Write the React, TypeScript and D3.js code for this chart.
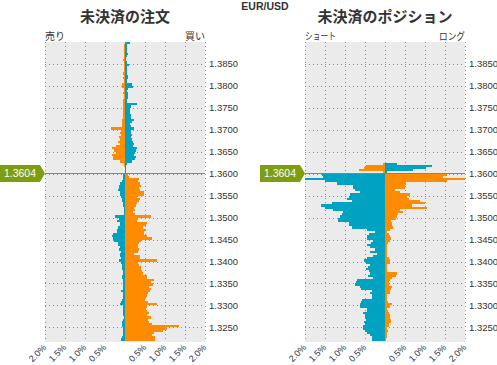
import React from "react";
import * as d3 from "d3";

// ---- data ----
const pairName = "EUR/USD";
const currentPriceLabel = "1.3604";
const currentPriceLevel = 1.36;
const bucketTop = 1.3895;
const bucketStep = 0.0005;
const priceTicks = [1.325, 1.33, 1.335, 1.34, 1.345, 1.35, 1.355, 1.36, 1.365, 1.37, 1.375, 1.38, 1.385];
const pctTicks = [-2, -1.5, -1, -0.5, 0.5, 1, 1.5, 2];
const pctGrid = [-2, -1.5, -1, -0.5, 0, 0.5, 1, 1.5, 2];

const panelTitles = ["未決済の注文", "未決済のポジション"];
const sideLabelsLeft = ["売り", "ショート"];
const sideLabelsRight = ["買い", "ロング"];

// values in %, bucket 0 = 1.3895 ... bucket 135 = 1.3220
const ordersOrange = [
  0, 0.025, 0.02, 0.035, 0.025, 0.02, 0.02, 0.025, 0.04, 0.025,
  0.035, 0.02, 0.02, 0.025, 0.04, 0.035, 0.04, 0.025, 0.02, 0.065,
  0.075, 0.035, 0.035, 0.04, 0.035, 0.035, 0.05, 0.04, 0.05, 0.06,
  0.05, 0.04, 0.04, 0.05, 0.05, 0.065, 0.08, 0.065, 0.065, 0.36,
  0.1, 0.13, 0.1, 0.15, 0.12, 0.18, 0.125, 0.23, 0.32, 0.27,
  0.23, 0.32, 0.31, 0.29, 0.13, 0.035, 0.015, 0.01, 0, 0,
  0.08, 0.11, 0.35, 0.32, 0.375, 0.39, 0.35, 0.38, 0.475, 0.475,
  0.29, 0.37, 0.34, 0.3, 0.27, 0.225, 0.24, 0.21, 0.24, 0.64,
  0.32, 0.31, 0.54, 0.52, 0.46, 0.525, 0.48, 0.475, 0.54, 0.675,
  0.39, 0.35, 0.33, 0.32, 0.34, 0.325, 0.22, 0.375, 0.375, 0.79,
  0.33, 0.36, 0.39, 0.4, 0.42, 0.44, 0.54, 0.54, 0.72, 0.64,
  0.71, 0.61, 0.66, 0.625, 0.58, 0.56, 0.525, 0.49, 0.575, 0.79,
  0.54, 0.52, 0.54, 0.59, 0.54, 0.64, 0.58, 0.61, 0.67, 1.35,
  1.04, 0.96, 0.72, 0.68, 0.75, 0.76,
];
const ordersTeal = [
  0.125, 0.05, 0.05, 0.04, 0.05, 0.075, 0.06, 0.035, 0.035, 0.05,
  0.09, 0.05, 0.04, 0.05, 0.06, 0.065, 0.065, 0.06, 0.05, 0.17,
  0.19, 0.065, 0.06, 0.075, 0.08, 0.08, 0.06, 0.05, 0.29, 0.16,
  0.12, 0.125, 0.13, 0.14, 0.14, 0.22, 0.18, 0.115, 0.14, 0.225,
  0.15, 0.16, 0.18, 0.15, 0.175, 0.2, 0.225, 0.19, 0.29, 0.27,
  0.24, 0.23, 0.28, 0.25, 0.18, 0.05, 0.025, 0.02, 0.02, 0.02,
  0.04, 0.06, 0.04, 0.075, 0.125, 0.14, 0.15, 0.17, 0.125, 0.12,
  0.09, 0.075, 0.07, 0.06, 0.04, 0.035, 0.025, 0.025, 0.025, 0.25,
  0.14, 0.19, 0.125, 0.125, 0.17, 0.19, 0.21, 0.29, 0.32, 0.31,
  0.275, 0.17, 0.17, 0.125, 0.15, 0.09, 0.125, 0.125, 0.09, 0.15,
  0.1, 0.08, 0.08, 0.07, 0.04, 0.04, 0.075, 0.075, 0.06, 0.04,
  0.04, 0.04, 0.06, 0.11, 0.06, 0.06, 0.06, 0.075, 0.11, 0.125,
  0.04, 0.04, 0.04, 0.04, 0.04, 0.025, 0.04, 0.07, 0.08, 0.08,
  0.06, 0.04, 0.04, 0.06, 0.075, 0.09,
];
const positionsOrange = [
  0, 0, 0, 0, 0, 0, 0, 0, 0, 0,
  0, 0, 0, 0, 0, 0, 0, 0, 0, 0,
  0, 0, 0, 0, 0, 0, 0, 0, 0, 0,
  0, 0, 0, 0, 0, 0, 0, 0, 0, 0,
  0, 0, 0, 0, 0, 0, 0, 0, 0, 0,
  0, 0, 0, 0, 0, 0.06, 0.47, 0.52, 0.64, 0.05,
  1.54, 1.44, 2.05, 1.55, 0.52, 0.5, 0.5, 0.25, 0.375, 0.625,
  0.56, 0.6, 0.875, 1.0, 0.67, 1.06, 0.375, 0.46, 0.33, 0.29,
  0.275, 0.15, 0.17, 0.17, 0.21, 0.125, 0.04, 0.1, 0.125, 0.15,
  0.125, 0.08, 0.06, 0.04, 0.04, 0.06, 0.04, 0.04, 0.1, 0.125,
  0.125, 0.06, 0.04, 0.04, 0.06, 0.3, 0.275, 0.167, 0.125, 0.1,
  0.09, 0.167, 0.15, 0.125, 0.125, 0.04, 0.04, 0.04, 0.08, 0.17,
  0.125, 0.06, 0.08, 0.11, 0.125, 0.125, 0.14, 0.14, 0.09, 0.11,
  0.06, 0.08, 0.06, 0.06, 0.04, 0.025,
];
const positionsTeal = [
  0, 0, 0, 0, 0, 0, 0, 0, 0, 0,
  0, 0, 0, 0, 0, 0, 0, 0, 0, 0,
  0, 0, 0, 0, 0, 0, 0, 0, 0, 0,
  0, 0, 0, 0, 0, 0, 0, 0, 0, 0,
  0, 0, 0, 0, 0, 0, 0, 0, 0, 0,
  0, 0, 0, 0, 0, 0.31, 1.17, 1.02, 0.7, 0.05,
  1.58, 1.55, 2.05, 1.5, 1.2, 0.8, 0.79, 0.75, 0.625, 0.875,
  0.9, 0.96, 0.83, 1.33, 1.6, 1.5, 1.29, 1.04, 1.08, 1.125,
  1.17, 1.18, 0.89, 0.89, 0.83, 0.44, 0.25, 0.4, 0.46, 0.44,
  0.31, 0.35, 0.44, 0.375, 0.25, 0.375, 0.19, 0.29, 0.45, 0.525,
  0.475, 0.375, 0.42, 0.475, 0.4, 0.375, 0.42, 0.31, 0.71, 0.72,
  0.74, 0.625, 0.61, 0.33, 0.375, 0.33, 0.33, 0.58, 0.6, 0.63,
  0.63, 0.46, 0.46, 0.54, 0.5, 0.5, 0.475, 0.525, 0.5, 0.54,
  0.54, 0.5, 0.46, 0.375, 0.33, 0.33,
];

// ---- style ----
const ORANGE = "#FF8C00";
const TEAL = "#00A2C2";
const GREEN = "#7E9E10";
const PLOT_BG = "#EBEBEB";
const GRID = "#8f8f8f";
const TEXT = "#333";
const LATIN = "'Liberation Sans', Arial, sans-serif";
const CJK = "'Noto Sans CJK JP', sans-serif";

const W = 497;
const H = 365;
const TOP = 42;
const BOTTOM = 342;
const PW = 160;

const yScale = d3.scaleLinear().domain([1.3217, 1.3899]).range([BOTTOM, TOP]);
const fmtPrice = d3.format(".4f");
const fmtPct = (v: number) => `${d3.format(".1f")(Math.abs(v))}%`;

type PanelProps = {
  idx: number;
  x0: number;
  orange: number[];
  teal: number[];
};

function Panel({ idx, x0, orange, teal }: PanelProps) {
  const x = d3.scaleLinear().domain([-2, 2]).range([x0, x0 + PW]);
  const clipId = `clip-${idx}`;
  const lineY = Math.round(yScale(currentPriceLevel)) - 0.5;
  const bars: React.ReactNode[] = [];
  orange.forEach((ov, i) => {
    const p = bucketTop - i * bucketStep;
    const above = p >= currentPriceLevel - 1e-9;
    const yTop = Math.round(yScale(p + bucketStep));
    const yBot = Math.round(yScale(p));
    const tv = teal[i];
    const oSigned = above ? -ov : ov;
    const tSigned = above ? tv : -tv;
    const x0v = x(0);
    if (ov > 0) {
      const xa = Math.round(Math.min(x0v, x(oSigned)));
      const xb = Math.round(Math.max(x0v, x(oSigned)));
      bars.push(
        <rect key={`o${i}`} x={xa} y={yTop} width={Math.max(1, xb - xa)} height={yBot - yTop} fill={ORANGE} />
      );
    }
    if (tv > 0) {
      const xa = Math.round(Math.min(x0v, x(tSigned)));
      const xb = Math.round(Math.max(x0v, x(tSigned)));
      bars.push(
        <rect key={`t${i}`} x={xa} y={yTop} width={Math.max(1, xb - xa)} height={yBot - yTop} fill={TEAL} />
      );
    }
  });
  const tagL = x0 - 45;
  const tagR = x0 - 5;
  const tagPath = `M${tagL},${lineY - 8.5} L${tagR},${lineY - 8.5} L${x0},${lineY} L${tagR},${lineY + 8.5} L${tagL},${lineY + 8.5} Z`;
  return (
    <g>
      <defs>
        <clipPath id={clipId}>
          <rect x={x0} y={TOP} width={PW} height={BOTTOM - TOP} />
        </clipPath>
      </defs>
      <text x={x0 + PW / 2} y={22} textAnchor="middle" fontFamily={CJK} fontWeight="bold"
        fontSize={15} fill={TEXT}>{panelTitles[idx]}</text>
      <text x={x0} y={39.5} fontFamily={CJK} fontSize={10} fill={TEXT}
        textLength={idx === 1 ? 31 : undefined} lengthAdjust="spacingAndGlyphs">{sideLabelsLeft[idx]}</text>
      <text x={x0 + PW} y={39.5} textAnchor="end" fontFamily={CJK} fontSize={10} fill={TEXT}
        textLength={idx === 1 ? 26 : undefined} lengthAdjust="spacingAndGlyphs">{sideLabelsRight[idx]}</text>
      <rect x={x0} y={TOP} width={PW} height={BOTTOM - TOP} fill={PLOT_BG} />
      {priceTicks.map((t) => (
        <line key={`h${t}`} x1={x0} x2={x0 + PW} y1={Math.round(yScale(t)) + 0.5} y2={Math.round(yScale(t)) + 0.5}
          stroke={GRID} strokeDasharray="1,3" />
      ))}
      {pctGrid.map((v) => (
        <line key={`v${v}`} x1={Math.round(x(v)) + 0.5} x2={Math.round(x(v)) + 0.5} y1={TOP} y2={BOTTOM}
          stroke={GRID} strokeDasharray="1,3" />
      ))}
      <g clipPath={`url(#${clipId})`} shapeRendering="crispEdges">{bars}</g>
      <line x1={x0} x2={x0 + PW} y1={lineY} y2={lineY} stroke={GREEN} strokeWidth={1} />
      <path d={tagPath} fill={GREEN} />
      <text x={(tagL + tagR) / 2} y={lineY} dy="0.36em" textAnchor="middle" fontFamily={LATIN}
        fontSize={10.5} fill="#fff">{currentPriceLabel}</text>
      {priceTicks.map((t) => (
        <text key={`yl${t}`} x={x0 + PW + 4} y={yScale(t)} dy="0.35em" fontFamily={LATIN}
          fontSize={9.5} fill={TEXT}>{fmtPrice(t)}</text>
      ))}
      {pctTicks.map((v) => (
        <text key={`xl${v}`} transform={`translate(${x(v) + 2},${348}) rotate(-45)`} textAnchor="end"
          fontFamily={LATIN} fontSize={9} fill={TEXT}>{fmtPct(v)}</text>
      ))}
    </g>
  );
}

export default function App() {
  return (
    <svg width={W} height={H} style={{ display: "block", position: "absolute", left: 0, top: 0, background: "#fff" }}>
      <rect x={0} y={0} width={W} height={H} fill="#fff" />
      <text x={265} y={10} textAnchor="middle" fontFamily={LATIN} fontWeight="bold" fontSize={10.5}
        fill={TEXT}>{pairName}</text>
      <Panel idx={0} x0={45} orange={ordersOrange} teal={ordersTeal} />
      <Panel idx={1} x0={305} orange={positionsOrange} teal={positionsTeal} />
    </svg>
  );
}
